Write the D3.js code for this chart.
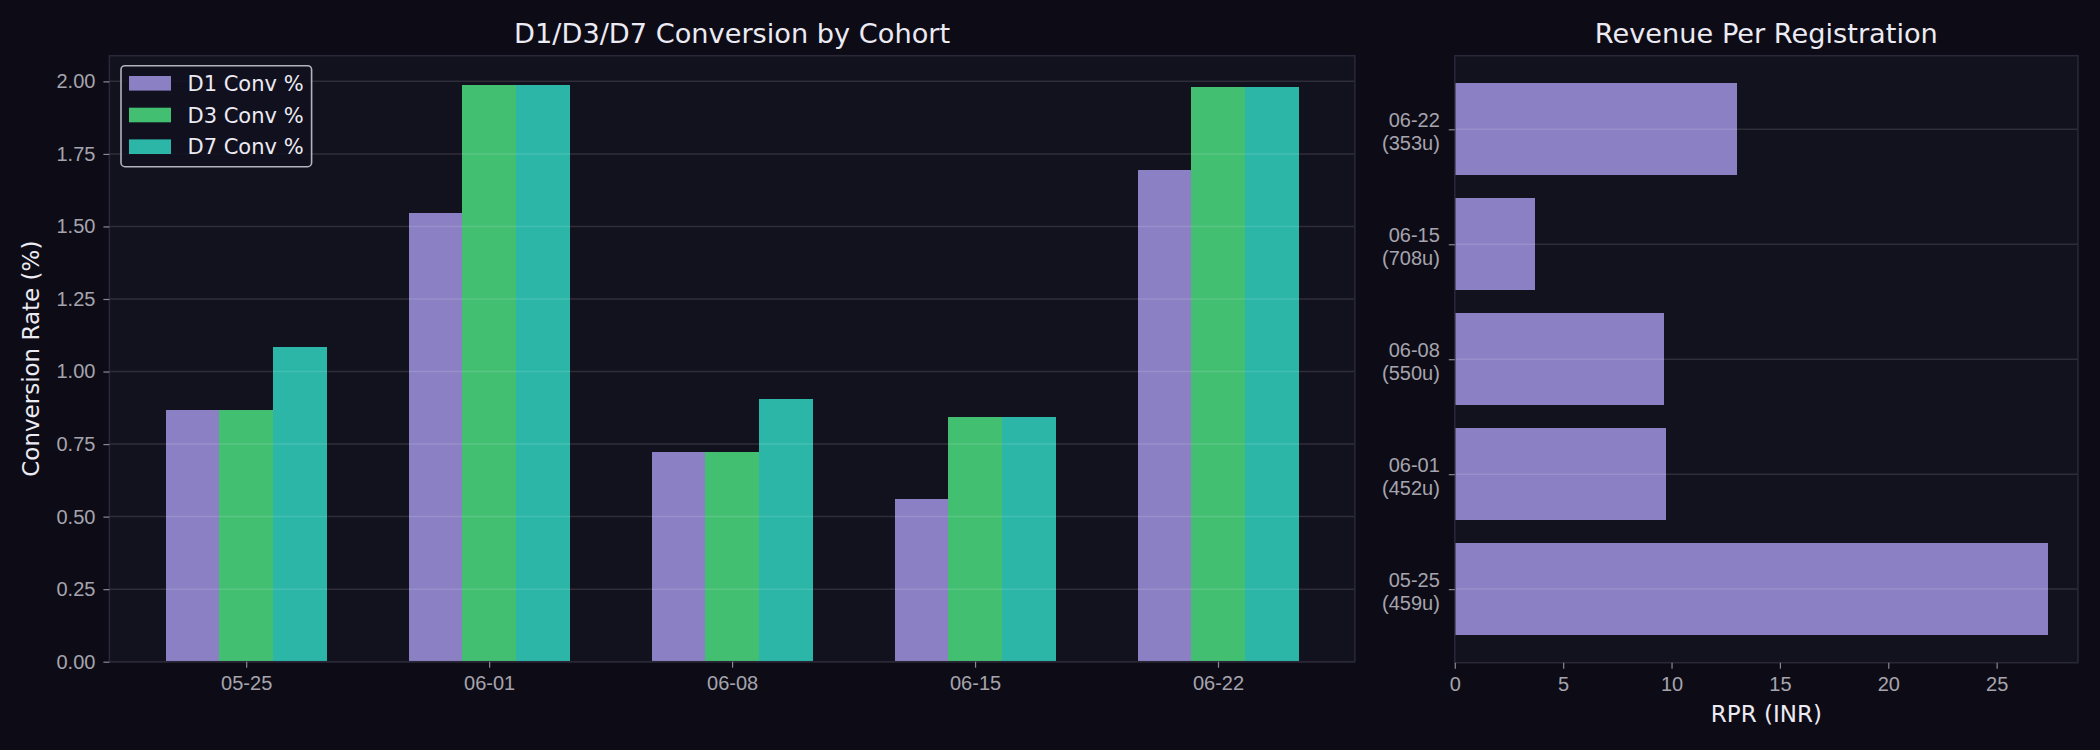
<!DOCTYPE html>
<html>
<head>
<meta charset="utf-8">
<script src="https://cdn.jsdelivr.net/npm/d3@7"></script>
<style>
  html, body { margin: 0; padding: 0; background: #0d0c16; }
  svg { display: block; font-family: "DejaVu Sans", sans-serif; }
  .tick text { fill: #a6a4ae; font-size: 20px; }
  .tick line { stroke: #8a8894; stroke-width: 1.2; }
  .domain { display: none; }
  .bar { shape-rendering: crispEdges; }
</style>
</head>
<body>
<div id="chart"></div>
<script>
var cohorts = ['05-25', '06-01', '06-08', '06-15', '06-22'];
var users = [459, 452, 550, 708, 353];
var d1Conv = [0.868, 1.548, 0.723, 0.561, 1.695];
var d3Conv = [0.868, 1.989, 0.723, 0.844, 1.982];
var d7Conv = [1.085, 1.989, 0.906, 0.844, 1.982];
var rpr = [27.38, 9.75, 9.64, 3.71, 13.01];
var convTicks = [0, 0.25, 0.5, 0.75, 1, 1.25, 1.5, 1.75, 2];
var rprTicks = [0, 5, 10, 15, 20, 25];

var seriesNames = ['D1 Conv %', 'D3 Conv %', 'D7 Conv %'];
var seriesColors = ['#8b80c4', '#43bf72', '#2bb6a8'];
var series = [d1Conv, d3Conv, d7Conv];

var W = 2100, H = 750;
var svg = d3.select('#chart').append('svg').attr('width', W).attr('height', H);
svg.append('rect').attr('width', W).attr('height', H).attr('fill', '#0d0c16');

var yTop = 55.7, yBot = 661.7,
	gridCol = 'rgba(255,255,255,0.12)',
	spineCol = '#2a2838';

// ---------- left: grouped conversion bars
var L = { x0: 109.4, x1: 1354.8 },
	bw = 0.22;
var xL = d3.scaleLinear().domain([-0.563, 4.563]).range([L.x0, L.x1]);
var yL = d3.scaleLinear().domain([0, d3.max(d7Conv.concat(d3Conv)) * 1.05]).range([yBot, yTop]);

var gL = svg.append('g');
gL.append('rect').attr('x', L.x0).attr('y', yTop).attr('width', L.x1 - L.x0).attr('height', yBot - yTop)
	.attr('fill', '#12111e');

series.forEach(function(vals, k){
	gL.append('g').selectAll('rect')
		.data(vals)
		.enter()
		.append('rect')
			.classed('bar', true)
			.attr('x', function(d, i){ return xL(i + (k - 1) * bw - bw / 2); })
			.attr('width', function(){ return xL(bw) - xL(0) + 0.5; })
			.attr('y', function(d){ return yL(d); })
			.attr('height', function(d){ return yL(0) - yL(d); })
			.attr('fill', seriesColors[k]);
});

gL.selectAll('.grid')
	.data(convTicks)
	.enter()
	.append('line')
		.attr('x1', L.x0).attr('x2', L.x1)
		.attr('y1', function(d){ return yL(d); })
		.attr('y2', function(d){ return yL(d); })
		.attr('stroke', gridCol).attr('stroke-width', 1.5);

gL.append('rect').attr('x', L.x0).attr('y', yTop).attr('width', L.x1 - L.x0).attr('height', yBot - yTop)
	.attr('fill', 'none').attr('stroke', spineCol).attr('stroke-width', 1.5);

gL.append('g').attr('transform', 'translate(' + L.x0 + ',0)')
	.call(d3.axisLeft(yL).tickValues(convTicks).tickFormat(d3.format('.2f')).tickSize(6).tickPadding(8));
gL.append('g').attr('transform', 'translate(0,' + yBot + ')')
	.call(d3.axisBottom(xL).tickValues(d3.range(cohorts.length)).tickFormat(function(i){ return cohorts[i]; })
		.tickSize(6).tickPadding(8));

gL.append('text').attr('x', (L.x0 + L.x1) / 2).attr('y', 43)
	.attr('text-anchor', 'middle').attr('fill', '#eceaf2').attr('font-size', 27.2)
	.text('D1/D3/D7 Conversion by Cohort');
gL.append('text').attr('transform', 'translate(39,' + (yTop + yBot) / 2 + ') rotate(-90)')
	.attr('text-anchor', 'middle').attr('fill', '#eceaf2').attr('font-size', 23)
	.text('Conversion Rate (%)');

// legend
var lg = gL.append('g');
lg.append('rect').attr('x', 121).attr('y', 65.7).attr('width', 190.6).attr('height', 101).attr('rx', 4)
	.attr('fill', '#12111e').attr('fill-opacity', 0.85).attr('stroke', '#b4b2bc').attr('stroke-width', 1.6);
lg.selectAll('.lgi')
	.data(seriesNames)
	.enter()
	.append('g')
		.attr('transform', function(d, i){ return 'translate(0,' + (83.3 + i * 31.7) + ')'; })
		.each(function(d, i){
			var g = d3.select(this);
			g.append('rect').attr('x', 129).attr('y', -7.3).attr('width', 42).attr('height', 14.6).attr('fill', seriesColors[i]);
			g.append('text').attr('x', 187.5).attr('y', 7.5).attr('fill', '#eceaf2').attr('font-size', 21).text(d);
		});

// ---------- right: revenue per registration
var R = { x0: 1454.8, x1: 2077.9, yb: 662.7 };
var xR = d3.scaleLinear().domain([0, d3.max(rpr) * 1.05]).range([R.x0, R.x1]);
var yR = d3.scaleLinear().domain([-0.64, cohorts.length - 1 + 0.64]).range([R.yb, yTop]);

var gR = svg.append('g');
gR.append('rect').attr('x', R.x0).attr('y', yTop).attr('width', R.x1 - R.x0).attr('height', R.yb - yTop)
	.attr('fill', '#12111e');
gR.selectAll('.bar')
	.data(rpr)
	.enter()
	.append('rect')
		.classed('bar', true)
		.attr('x', xR(0))
		.attr('width', function(d){ return xR(d) - xR(0); })
		.attr('y', function(d, i){ return yR(i + 0.4); })
		.attr('height', yR(0) - yR(0.8))
		.attr('fill', seriesColors[0]);
gR.selectAll('.grid')
	.data(cohorts)
	.enter()
	.append('line')
		.attr('x1', R.x0).attr('x2', R.x1)
		.attr('y1', function(d, i){ return yR(i); })
		.attr('y2', function(d, i){ return yR(i); })
		.attr('stroke', gridCol).attr('stroke-width', 1.5);
gR.append('rect').attr('x', R.x0).attr('y', yTop).attr('width', R.x1 - R.x0).attr('height', R.yb - yTop)
	.attr('fill', 'none').attr('stroke', spineCol).attr('stroke-width', 1.5);

gR.append('g').attr('transform', 'translate(0,' + R.yb + ')')
	.call(d3.axisBottom(xR).tickValues(rprTicks).tickSize(6).tickPadding(8));

var yAx = gR.append('g').attr('transform', 'translate(' + R.x0 + ',0)')
	.call(d3.axisLeft(yR).tickValues(d3.range(cohorts.length)).tickFormat('').tickSize(6).tickPadding(8));
yAx.selectAll('.tick text').remove();
yAx.selectAll('.tick').append('text')
	.attr('x', -15).attr('text-anchor', 'end')
	.each(function(i){
		var t = d3.select(this);
		t.append('tspan').attr('x', -15).attr('y', -2.5).text(cohorts[i]);
		t.append('tspan').attr('x', -15).attr('y', 20.5).text('(' + users[i] + 'u)');
	});

gR.append('text').attr('x', (R.x0 + R.x1) / 2).attr('y', 722)
	.attr('text-anchor', 'middle').attr('fill', '#eceaf2').attr('font-size', 23)
	.text('RPR (INR)');
gR.append('text').attr('x', (R.x0 + R.x1) / 2).attr('y', 43)
	.attr('text-anchor', 'middle').attr('fill', '#eceaf2').attr('font-size', 27.2)
	.text('Revenue Per Registration');
</script>
</body>
</html>
